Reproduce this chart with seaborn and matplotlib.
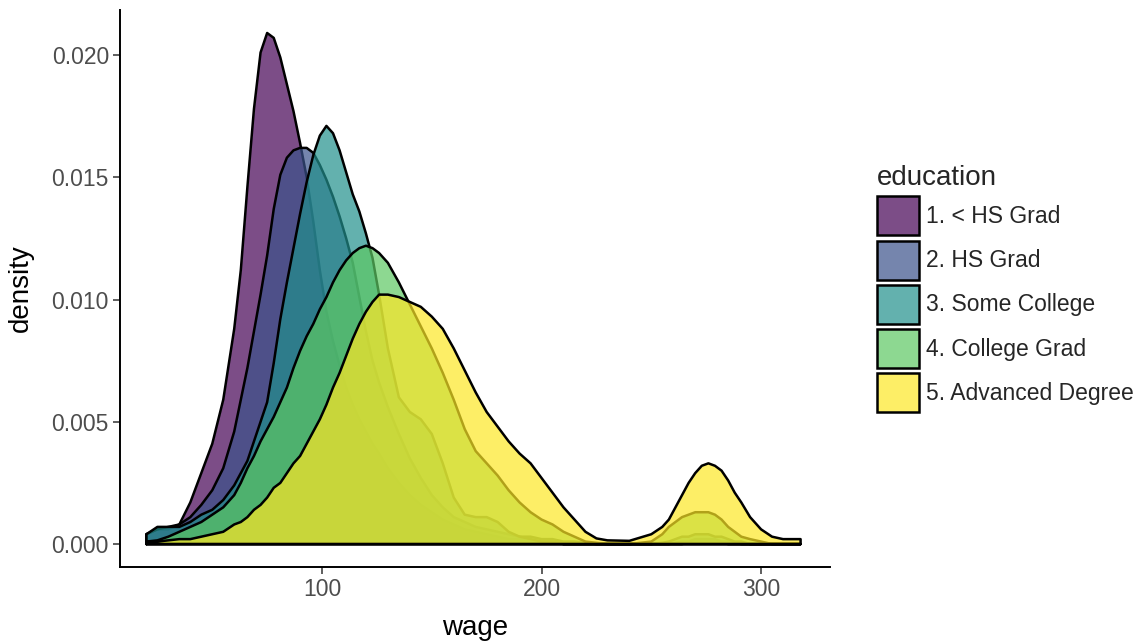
import matplotlib
matplotlib.use("Agg")
import matplotlib.pyplot as plt
from matplotlib.patches import Patch
from matplotlib.colors import to_rgb
import seaborn as sns
import pandas as pd

# Wage grid (thousands of dollars) shared by all education groups
wage = [20, 25, 30, 35, 40, 45, 50, 55, 60,
        63, 66, 69, 72, 75, 78, 81, 84, 87, 90, 93, 96, 99, 102, 105, 108, 111, 114, 117, 120, 123, 126,
        130, 135, 140, 145, 150, 155, 160, 165, 170, 175, 180, 185, 190, 195, 200, 205, 210, 215, 220, 225, 230,
        240, 250, 255, 258, 261, 264, 267, 270, 273, 276, 279, 282, 285, 288, 291, 295, 300, 305, 310,
        318]

# Estimated density of wage for each education level
lt_hs_grad = [.0004, .0006, .0006, .0008, .0017, .0029, .0041, .0059, .0088,
              .0112, .0146, .0178, .0201, .0209, .0207, .0199, .0188, .0177, .0164, .0150, .0132, .0112, .0095, .0083, .0073, .0064, .0057, .0051, .0046, .0041, .0037,
              .0031, .0025, .0020, .0016, .0013, .0010, .0008, .0006, .0005, .0004, .0003, .0002, .0002, .0001, .0001, .0001, 0, 0, 0, 0, 0,
              0, 0, 0, 0, 0, 0, .00005, .0001, .0001, .0001, .0001, .00005, 0, 0, 0, 0, 0, 0, 0,
              0]
hs_grad = [.0004, .0006, .0007, .0008, .0011, .0016, .0022, .0031, .0046,
           .0059, .0072, .0087, .0102, .0118, .0137, .0151, .0158, .0161, .0162, .0162, .0160, .0155, .0149, .0142, .0134, .0125, .0115, .0101, .0087, .0075, .0066,
           .0056, .0045, .0035, .0027, .0020, .0015, .0011, .0009, .0007, .0006, .0005, .0004, .0003, .0003, .0002, .0002, .0001, .0001, .00005, 0, 0,
           0, 0, 0, 0, .00005, .0001, .0001, .0002, .0002, .0002, .0002, .0001, .0001, .00005, 0, 0, 0, 0, 0,
           0]
some_college = [.0004, .0007, .0007, .0007, .0009, .0012, .0014, .0018, .0024,
                .0029, .0034, .0042, .0050, .0058, .0074, .0092, .0107, .0121, .0135, .0148, .0159, .0167, .0171, .0168, .0161, .0152, .0143, .0136, .0127, .0117, .0102,
                .0080, .0060, .0054, .0051, .0045, .0033, .0019, .0012, .0011, .0011, .0009, .0005, .0003, .0002, .0001, .0001, 0, 0, 0, 0, 0,
                0, 0, .00005, .0001, .0002, .0003, .0003, .0004, .0004, .0004, .0003, .0003, .0002, .0001, .0001, 0, 0, 0, 0,
                0]
college_grad = [.0001, .00015, .0003, .0005, .0007, .0009, .0012, .0015, .0020,
                .0025, .0031, .0036, .0042, .0047, .0052, .0058, .0064, .0072, .0079, .0085, .0090, .0096, .0101, .0107, .0112, .0116, .0119, .0121, .0122, .0121, .0119,
                .0115, .0107, .0098, .0089, .0080, .0070, .0059, .0047, .0038, .0033, .0028, .0022, .0017, .0013, .0010, .0008, .0005, .0003, .0001, .00005, 0,
                0, .0001, .0004, .0007, .0009, .0011, .0012, .0013, .0013, .0013, .0012, .0010, .0007, .0005, .0003, .0002, .0001, 0, 0,
                0]
advanced_degree = [.0001, .0001, .00015, .0002, .0002, .0003, .0004, .0005, .0008,
                   .0009, .0011, .0014, .0016, .0019, .0023, .0025, .0029, .0033, .0036, .0041, .0046, .0051, .0057, .0064, .0070, .0077, .0084, .0090, .0095, .0099, .0102,
                   .0102, .0101, .0099, .0097, .0093, .0088, .0080, .0071, .0062, .0054, .0048, .0042, .0037, .0033, .0027, .0021, .0015, .0010, .0005, .00023, .00015,
                   .00013, .0004, .0007, .0010, .0015, .0020, .0025, .0029, .0032, .0033, .0032, .0030, .0026, .0021, .0017, .0011, .0006, .0003, .0002,
                   .0002]

education = ["1. < HS Grad", "2. HS Grad", "3. Some College",
             "4. College Grad", "5. Advanced Degree"]
series = [lt_hs_grad, hs_grad, some_college, college_grad, advanced_degree]

df = pd.concat(
    [pd.DataFrame({"wage": wage, "density": d, "education": e})
     for e, d in zip(education, series)],
    ignore_index=True,
)

sns.set_theme(style="white")
plt.rcParams["font.family"] = ["Liberation Sans", "DejaVu Sans"]

# viridis, five levels
colors = ["#440154", "#3B528B", "#21908C", "#5DC863", "#FDE725"]
alpha = 0.7
edge_lw = 1.8

fig = plt.figure(figsize=(11.42, 6.41), dpi=100)
ax = fig.add_axes([120 / 1142, 1 - 567 / 641, 710 / 1142, 557 / 641])

for i, (e, col) in enumerate(zip(education, colors)):
    g = df[df["education"] == e]
    ax.fill_between(g["wage"], 0, g["density"], color=col, alpha=alpha,
                    linewidth=0, zorder=2 * i + 1)
    # closed outline: baseline -> density curve -> baseline
    xs = [g["wage"].iloc[0]] + list(g["wage"]) + [g["wage"].iloc[-1], g["wage"].iloc[0]]
    ys = [0] + list(g["density"]) + [0, 0]
    sns.lineplot(x=xs, y=ys, sort=False, estimator=None, color="black",
                 linewidth=edge_lw, zorder=2 * i + 2, ax=ax,
                 solid_joinstyle="round", solid_capstyle="round")

ax.set_xlim(7.97, 331.4)
ax.set_ylim(-0.00094, 0.02184)
ax.set_xticks([100, 200, 300])
ax.set_yticks([0, 0.005, 0.010, 0.015, 0.020])
ax.set_yticklabels(["0.000", "0.005", "0.010", "0.015", "0.020"])

for side in ["top", "right"]:
    ax.spines[side].set_visible(False)
for side in ["left", "bottom"]:
    ax.spines[side].set_color("black")
    ax.spines[side].set_linewidth(1.4)

ax.tick_params(axis="both", which="both", direction="out", length=5, width=1.1,
               color="#333333", labelcolor="#4D4D4D", labelsize=16.5, pad=3,
               bottom=True, left=True)
ax.set_xlabel("wage", fontsize=20, color="black", labelpad=10)
ax.set_ylabel("density", fontsize=20, color="black", labelpad=13)

handles = []
for col in colors:
    r, gg, b = to_rgb(col)
    handles.append(Patch(facecolor=(r, gg, b, alpha), edgecolor="black",
                         linewidth=edge_lw))
leg = ax.legend(handles, education, loc="upper left",
                bbox_to_anchor=(877 / 1142, 1 - 165 / 641),
                bbox_transform=fig.transFigure, frameon=False,
                title="education", title_fontsize=20, fontsize=16.5,
                handlelength=1.85, handleheight=2.24, labelspacing=0.23,
                handletextpad=0.3, borderpad=0, borderaxespad=0)
leg._legend_box.align = "left"

fig.savefig("out.png", dpi=100)
